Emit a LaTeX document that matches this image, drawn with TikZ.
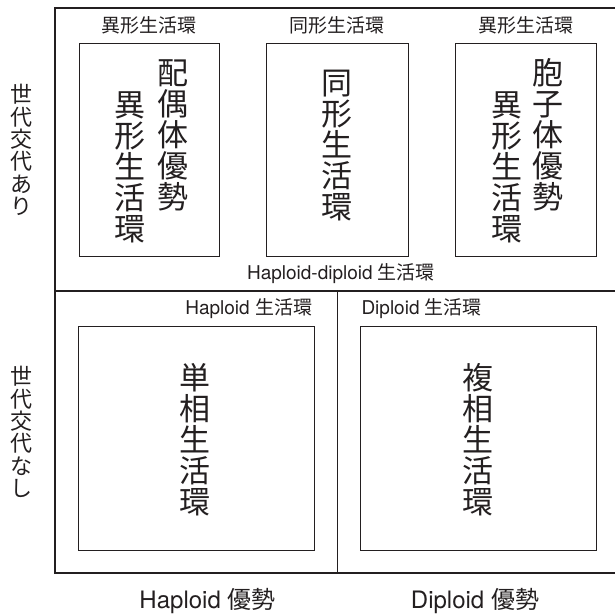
\documentclass[tikz,border=0pt]{standalone}
\usepackage{fontspec}
\setmainfont{TeX Gyre Heros}
\newfontfamily\jp{Noto Sans CJK JP}
\definecolor{ink}{RGB}{35,31,32}
\begin{document}
\begin{tikzpicture}[x=1pt,y=-1pt,
  every node/.style={inner sep=0pt,outer sep=0pt,text=ink},
  frame/.style={draw=ink,line width=1.1pt},
  innerbox/.style={draw=ink,line width=0.9pt,rectangle},
  bigv/.style={align=center,font=\jp\fontsize{31}{31}\selectfont},
  sidev/.style={align=center,font=\jp\fontsize{22}{22.4}\selectfont},
  small/.style={font=\fontsize{19}{20}\selectfont},
  bottomlab/.style={font=\fontsize{24}{26}\selectfont}]
\useasboundingbox (0,0) rectangle (615,613);
% outer frame
\coordinate (tl) at (55,8);
\coordinate (tr) at (615,8);
\coordinate (ml) at (55,291);
\coordinate (mr) at (615,291);
\coordinate (bl) at (55,573);
\coordinate (br) at (615,573);
\coordinate (vt) at (337.5,291);
\coordinate (vb) at (337.5,573);
\draw[frame] (tr) -- (tl) -- (bl) -- (br);
\draw[frame] (ml) -- (mr);
\draw[frame] (vt) -- (vb);
% top row boxes
\node[innerbox,minimum width=140pt,minimum height=212.7pt] (b1) at (149,149.7) {};
\node[innerbox,minimum width=141.3pt,minimum height=212.7pt] (b2) at (337.3,149.7) {};
\node[innerbox,minimum width=141.4pt,minimum height=212.7pt] (b3) at (526,149.7) {};
\node[small] (l1) at (149,25) {{\jp 異形生活環}};
\node[small] (l2) at (337.3,25) {{\jp 同形生活環}};
\node[small] (l3) at (526,25) {{\jp 異形生活環}};
\node[bigv] (t1a) at (173,135) {配\\偶\\体\\優\\勢};
\node[bigv] (t1b) at (130,167.5) {異\\形\\生\\活\\環};
\node[bigv] (t2) at (337,146) {同\\形\\生\\活\\環};
\node[bigv] (t3a) at (548,135) {胞\\子\\体\\優\\勢};
\node[bigv] (t3b) at (507,167.5) {異\\形\\生\\活\\環};
\node[small] (hd) at (341,274) {Haploid-diploid {\jp 生活環}};
% bottom row boxes
\node[innerbox,minimum width=235.3pt,minimum height=223.3pt] (b4) at (196.3,438.3) {};
\node[innerbox,minimum width=236pt,minimum height=223.3pt] (b5) at (478.7,438.3) {};
\node[small,anchor=east] (l4) at (312,309) {Haploid {\jp 生活環}};
\node[small,anchor=west] (l5) at (361.5,309) {Diploid {\jp 生活環}};
\node[bigv] (t4) at (195,440) {単\\相\\生\\活\\環};
\node[bigv] (t5) at (478,440) {複\\相\\生\\活\\環};
% side labels
\node[sidev] (s1) at (21,150) {世\\代\\交\\代\\あ\\り};
\node[sidev] (s2) at (21,432) {世\\代\\交\\代\\な\\し};
% bottom labels
\node[bottomlab] (h1) at (207.5,601) {Haploid {\jp 優勢}};
\node[bottomlab] (h2) at (475,601) {Diploid {\jp 優勢}};
\end{tikzpicture}
\end{document}
